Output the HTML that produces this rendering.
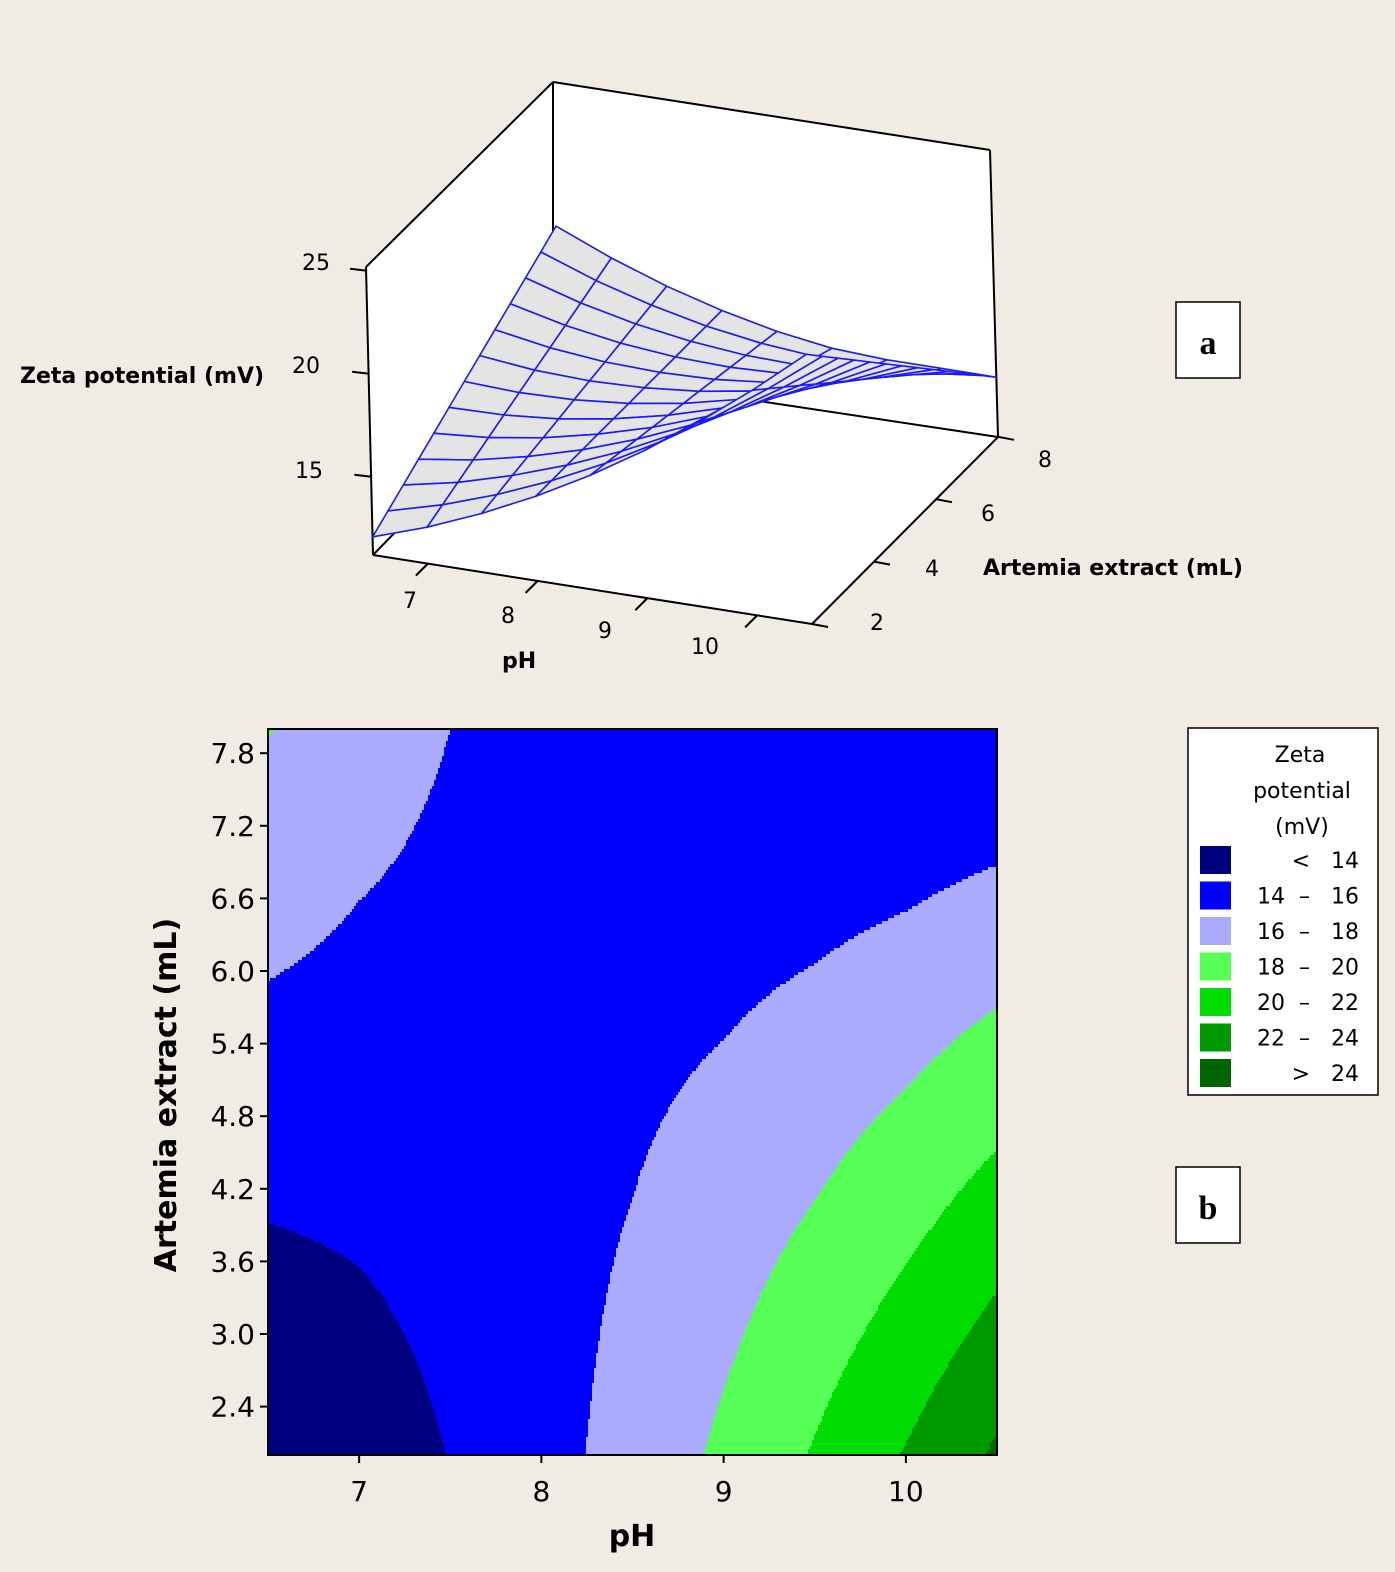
<!DOCTYPE html>
<html><head><meta charset="utf-8">
<style>
body{margin:0;background:#f0ebe3;}
svg{display:block;font-family:"DejaVu Sans","Liberation Sans",sans-serif;}
</style></head>
<body>
<svg id="fig" width="1395" height="1572" viewBox="0 0 1395 1572">
<rect x="0" y="0" width="1395" height="1572" fill="#f0ebe3"/>
<g id="p3d">
<polygon points="373,555 366,267 553,82 990,150 998,437 812,624" fill="#ffffff"/>
<g stroke="#000" stroke-width="2" fill="none">
<line x1="366" y1="267" x2="553" y2="82"/><line x1="553" y1="82" x2="990" y2="150"/>
<line x1="990" y1="150" x2="998" y2="437"/><line x1="553" y1="82" x2="553" y2="370"/>
<line x1="553" y1="370" x2="998" y2="437"/><line x1="553" y1="370" x2="373" y2="555"/>
<line x1="373" y1="555" x2="366" y2="267"/>
</g>
<g id="mesh"></g>
<g stroke="#000" stroke-width="2" fill="none">
<line x1="373" y1="555" x2="812" y2="624"/><line x1="812" y1="624" x2="998" y2="437"/>
</g>
<g id="ticks3d" stroke="#000" stroke-width="2"></g>
<g font-size="22" fill="#000">
<text x="302" y="270">25</text>
<text x="292" y="373">20</text>
<text x="295" y="478">15</text>
<text x="403" y="608">7</text>
<text x="501" y="623">8</text>
<text x="598" y="638">9</text>
<text x="691" y="654">10</text>
<text x="870" y="630">2</text>
<text x="925" y="576">4</text>
<text x="981" y="521">6</text>
<text x="1038" y="467">8</text>
</g>
<text x="20" y="383" font-size="22" font-weight="bold">Zeta potential (mV)</text>
<text x="502" y="668" font-size="22" font-weight="bold">pH</text>
<text x="983" y="575" font-size="22" font-weight="bold">Artemia extract (mL)</text>
</g>
<rect x="1176" y="302" width="64" height="76" fill="#fff" stroke="#000" stroke-width="1.5"/>
<text x="1208" y="354" font-family="Liberation Serif,serif" font-weight="bold" font-size="34" text-anchor="middle">a</text>
<rect x="1176" y="1167" width="64" height="76" fill="#fff" stroke="#000" stroke-width="1.5"/>
<text x="1208" y="1219" font-family="Liberation Serif,serif" font-weight="bold" font-size="34" text-anchor="middle">b</text>

<g id="contour">
<g id="cells"></g>
<rect x="268" y="729" width="729" height="726" fill="none" stroke="#000" stroke-width="2"/>
<g id="axes2d"></g>
<text x="632" y="1546" font-size="30" font-weight="bold" text-anchor="middle">pH</text>
<text transform="translate(176,1095) rotate(-90)" font-size="30" font-weight="bold" text-anchor="middle">Artemia extract (mL)</text>
</g>
<g id="legend">
<rect x="1188" y="728" width="190" height="367" fill="#fff" stroke="#000" stroke-width="1.5"/>
<text x="1300" y="762" font-size="22" text-anchor="middle">Zeta</text>
<text x="1302" y="798" font-size="22" text-anchor="middle">potential</text>
<text x="1302" y="834" font-size="22" text-anchor="middle">(mV)</text>
</g>
</svg>
<script>
const NS="http://www.w3.org/2000/svg";
const phVals=[6.5,7,7.5,8,8.5,9,9.5,10,10.5];
const aVals=[2,2.5,3,3.5,4,4.5,5,5.5,6,6.5,7,7.5,8];
const z65=[12.08,12.58,13.08,13.58,14.08,14.58,15.08,15.58,16.08,16.58,17.08,17.58,18.08];
const z70=[12.97,13.30,13.63,13.96,14.29,14.63,14.96,15.29,15.62,15.95,16.28,16.61,16.95];
const z75=[14.05,14.21,14.38,14.54,14.70,14.86,15.03,15.19,15.35,15.51,15.68,15.84,16.00];
const z80=[15.31,15.30,15.30,15.29,15.29,15.28,15.27,15.27,15.26,15.25,15.25,15.24,15.24];
const z85=[16.74,16.57,16.39,16.22,16.04,15.87,15.69,15.52,15.34,15.17,14.99,14.82,14.64];
const z90=[18.36,18.02,17.67,17.33,16.99,16.64,16.30,15.95,15.61,15.27,14.92,14.58,14.24];
const z95=[20.16,19.65,19.13,18.62,18.11,17.60,17.09,16.57,16.06,15.55,15.04,14.52,14.10];
const z100=[22.13,21.45,20.77,20.09,19.40,18.72,18.04,17.36,16.68,15.99,15.31,14.63,14.10];
const z105=[24.29,23.44,22.59,21.74,20.89,20.04,19.19,18.34,17.49,16.64,15.79,14.94,14.09];
const Z=[z65,z70,z75,z80,z85,z90,z95,z100,z105];
const levels=[14,16,18,20,22,24];
const legendLabels=["<   14","14  –   16","16  –   18","18  –   20","20  –   22","22  –   24",">   24"];
const colors=["#000080","#0000ff","#aaaaff","#55ff55","#00dd00","#009900","#006600"];
const xTicks=[7,8,9,10];
const yTicks=[2.4,3.0,3.6,4.2,4.8,5.4,6.0,6.6,7.2,7.8];
const zTicks3d=[15,20,25];
const phTicks3d=[7,8,9,10];
const aTicks3d=[2,4,6,8];

function mk(tag,attrs,parent){const e=document.createElementNS(NS,tag);for(const k in attrs)e.setAttribute(k,attrs[k]);parent.appendChild(e);return e;}
function interp(u,v){
  let fi=(u-phVals[0])/0.5, fj=(v-aVals[0])/0.5;
  fi=Math.max(0,Math.min(phVals.length-1.0001,fi));fj=Math.max(0,Math.min(aVals.length-1.0001,fj));
  const i=Math.floor(fi),j=Math.floor(fj),a=fi-i,b=fj-j;
  return Z[i][j]*(1-a)*(1-b)+Z[i+1][j]*a*(1-b)+Z[i][j+1]*(1-a)*b+Z[i+1][j+1]*a*b;
}
function bin(z){let k=0;while(k<levels.length&&z>=levels[k])k++;return k;}
const X0=268,X1=997,Y0=729,Y1=1455,U0=6.5,U1=10.5,V0=2,V1=8;
const sx=u=>X0+(u-U0)/(U1-U0)*(X1-X0);
const sy=v=>Y1-(v-V0)/(V1-V0)*(Y1-Y0);
const cells=document.getElementById('cells');
const DX=2,DY=3;
for(let y=Y0;y<Y1;y+=DY){
  const v=V1-((y+DY/2)-Y0)/(Y1-Y0)*(V1-V0);
  let start=X0,cur=-1;
  for(let x=X0;x<X1+DX;x+=DX){
    let k=-1;
    if(x<X1){const u=U0+((x+DX/2)-X0)/(X1-X0)*(U1-U0);k=bin(interp(u,v));}
    if(k!==cur){
      if(cur>=0){const xe=Math.min(x,X1);
        const r=mk('rect',{x:start,y:y,width:xe-start+0.6,height:Math.min(DY,Y1-y)+0.6,fill:colors[cur]},cells);
        
        }
      start=x;cur=k;
    }
  }
}
const ax=document.getElementById('axes2d');
xTicks.forEach(t=>{const x=sx(t);
  const l=mk('line',{x1:x,y1:Y1,x2:x,y2:Y1+8,stroke:'#000','stroke-width':2},ax);
  
  
  const tx=mk('text',{x:x,y:1501,'font-size':28,'text-anchor':'middle'},ax);tx.textContent=t;
  
  });
yTicks.forEach(t=>{const y=sy(t);
  const l=mk('line',{x1:X0-8,y1:y,x2:X0,y2:y,stroke:'#000','stroke-width':2},ax);
  
  
  const tx=mk('text',{x:255,y:y+10,'font-size':28,'text-anchor':'end'},ax);tx.textContent=t.toFixed(1);
  
  });
const lg=document.getElementById('legend');
colors.forEach((c,i)=>{const y=846+i*35.5;
  const r=mk('rect',{x:1200,y:y,width:31,height:28,fill:c},lg);
  
  
  const t=mk('text',{x:1359,y:y+22,'font-size':22,'text-anchor':'end'},lg);
  t.setAttribute('style','white-space:pre');t.textContent=legendLabels[i];
  
  });
const ZMIN=11.2;
function proj(u,v,z){return [373+(u-6.5)*109.75+(v-2)*31-(z-ZMIN)*0.43, 555+(u-6.5)*17.25-(v-2)*31.2-(z-ZMIN)*20.6];}
const mesh=document.getElementById('mesh');
const quads=[];
for(let i=0;i<phVals.length-1;i++)for(let j=0;j<aVals.length-1;j++)quads.push([i,j]);
quads.sort((a,b)=>(b[1]-a[1])||(a[0]-b[0]));
quads.forEach(([i,j])=>{
  const pts=[[i,j],[i+1,j],[i+1,j+1],[i,j+1]].map(([a,b])=>proj(phVals[a],aVals[b],Z[a][b]).map(n=>n.toFixed(1)).join(','));
  const p=mk('polygon',{points:pts.join(' '),fill:'#e4e4e4',stroke:'#1a1aff','stroke-width':1.6,'stroke-linejoin':'round'},mesh);
  
  
});
const tk=document.getElementById('ticks3d');
zTicks3d.forEach(t=>{const [x,y]=proj(6.5,2,t);
  const l=mk('line',{x1:x-17,y1:y-2,x2:x,y2:y},tk);
  
  });
phTicks3d.forEach(t=>{const [x,y]=proj(t,2,ZMIN);
  const l=mk('line',{x1:x,y1:y,x2:x-12,y2:y+12},tk);
  
  });
aTicks3d.forEach(t=>{const [x,y]=proj(10.5,t,ZMIN);
  const l=mk('line',{x1:x,y1:y,x2:x+16,y2:y+3},tk);
  
  });
</script>
</body></html>
